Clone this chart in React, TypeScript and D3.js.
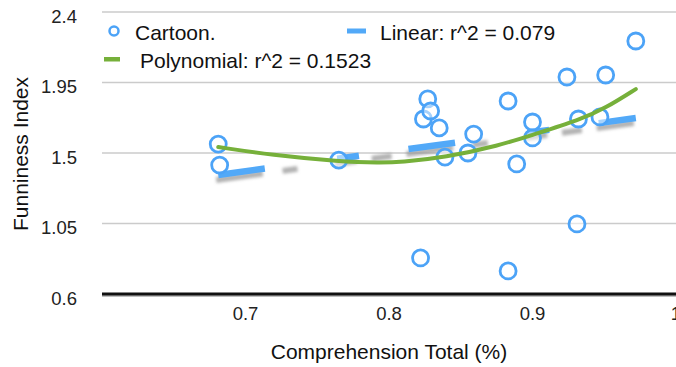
import React from "react";
import * as d3 from "d3";

// Data
const cartoonX = [0.681, 0.682, 0.765, 0.822, 0.824, 0.827, 0.829, 0.835, 0.839, 0.855, 0.859, 0.883, 0.883, 0.889, 0.9, 0.9, 0.924, 0.931, 0.932, 0.947, 0.951, 0.972];
const cartoonY = [1.557, 1.423, 1.455, 0.83, 1.717, 1.845, 1.768, 1.66, 1.474, 1.5, 1.621, 1.832, 0.747, 1.43, 1.596, 1.698, 1.985, 1.047, 1.717, 1.73, 1.998, 2.215];

const linearX = [0.681, 0.972];
const linearY = [1.36, 1.723];

const polyX = [0.681, 0.718, 0.766, 0.794, 0.808, 0.839, 0.877, 0.9, 0.933, 0.951, 0.972];
const polyY = [1.538, 1.487, 1.445, 1.438, 1.442, 1.472, 1.548, 1.616, 1.711, 1.787, 1.908];

const yTicks = [0.6, 1.05, 1.5, 1.95, 2.4];
const xTicks = [0.7, 0.8, 0.9, 1];

const W = 676;
const H = 367;
const font = "Liberation Sans, Arial, sans-serif";
const blue = "#4ca3f7";
const green = "#76b03a";

export default function App() {
  const x = d3.scaleLinear().domain([0.6, 1.0]).range([102, 676]);
  const y = d3.scaleLinear().domain([0.6, 2.4]).range([294, 12]);

  const line = d3
    .line<[number, number]>()
    .x((d) => x(d[0]))
    .y((d) => y(d[1]));
  const curve = d3
    .line<[number, number]>()
    .x((d) => x(d[0]))
    .y((d) => y(d[1]))
    .curve(d3.curveBasis);

  const linPts = linearX.map((v, i) => [v, linearY[i]] as [number, number]);
  const polyPts = polyX.map((v, i) => [v, polyY[i]] as [number, number]);

  return (
    <svg
      width={W}
      height={H}
      style={{ position: "absolute", left: 0, top: 0, background: "#fff" }}
      fontFamily={font}
    >
      <defs>
        <filter id="blur" x="-10%" y="-50%" width="120%" height="200%">
          <feGaussianBlur stdDeviation="1.4" />
        </filter>
      </defs>

      {/* gridlines */}
      {yTicks.slice(1).map((t) => (
        <line key={t} x1={102} x2={676} y1={y(t)} y2={y(t)} stroke="#cbcbcb" strokeWidth={1.5} />
      ))}
      {/* x axis */}
      <line x1={102} x2={676} y1={y(0.6) + 2} y2={y(0.6) + 2} stroke="#aaa" strokeWidth={1.5} />
      <line x1={102} x2={676} y1={y(0.6)} y2={y(0.6)} stroke="#111" strokeWidth={3} />

      {/* y tick labels */}
      {yTicks.map((t) => (
        <text key={t} x={77} y={y(t) + 10.5} textAnchor="end" fontSize={18.5} fill="#222">
          {d3.format("")(t)}
        </text>
      ))}
      {/* x tick labels */}
      {xTicks.map((t) => (
        <text key={t} x={x(t)} y={320} textAnchor="middle" fontSize={18.5} fill="#222">
          {String(t)}
        </text>
      ))}

      <text x={389} y={359} textAnchor="middle" fontSize={21} fill="#111">
        Comprehension Total (%)
      </text>
      <text
        transform={`translate(28,154) rotate(-90)`}
        textAnchor="middle"
        fontSize={21}
        fill="#111"
      >
        Funniness Index
      </text>

      {/* linear trendline: shadow + dashed */}
      <path
        d={line(linPts) ?? ""}
        transform="translate(-2,5)"
        fill="none"
        stroke="#9a9a9a"
        strokeOpacity={0.75}
        strokeWidth={6}
        strokeDasharray="47,20,15,38,22,15,20,15"
        filter="url(#blur)"
      />
      <path
        d={line(linPts) ?? ""}
        fill="none"
        stroke="#52a9f8"
        strokeWidth={6.5}
        strokeDasharray="47,73,22,50"
      />

      {/* points */}
      {cartoonX.map((v, i) => (
        <circle key={i} cx={x(v)} cy={y(cartoonY[i])} r={8} fill="#fff" fillOpacity={0.5} stroke={blue} strokeWidth={2.8} />
      ))}

      {/* polynomial trendline */}
      <path d={curve(polyPts) ?? ""} fill="none" stroke={green} strokeWidth={4} strokeLinecap="round" />

      {/* legend */}
      <circle cx={114} cy={31} r={4.5} fill="#fff" stroke={blue} strokeWidth={2.5} />
      <text x={135} y={40} fontSize={21} fill="#111">Cartoon.</text>
      <rect x={347} y={28.5} width={19} height={5} fill="#52a9f8" />
      <text x={380} y={40} fontSize={21} fill="#111">Linear: r^2 = 0.079</text>
      <rect x={104} y={57} width={16} height={4.5} fill={green} />
      <text x={140} y={68} fontSize={21} fill="#111">Polynomial: r^2 = 0.1523</text>
    </svg>
  );
}
